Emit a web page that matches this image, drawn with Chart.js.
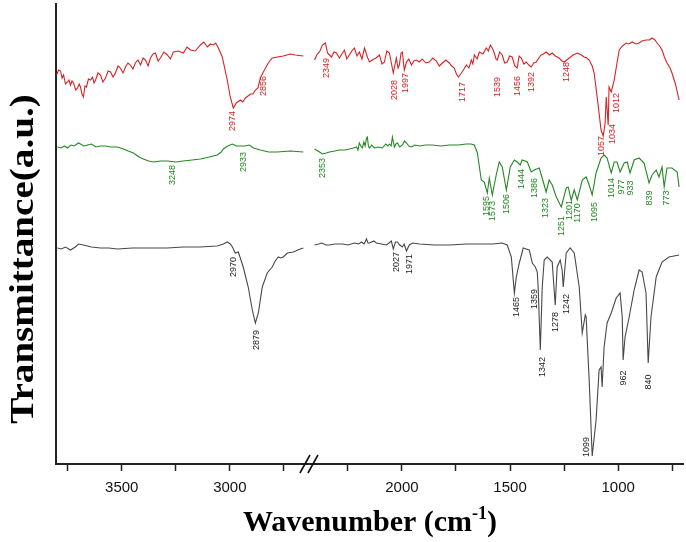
<!DOCTYPE html>
<html><head><meta charset="utf-8">
<script src="https://cdn.jsdelivr.net/npm/chart.js@4.4.1/dist/chart.umd.min.js"></script>
<style>html,body{margin:0;padding:0;background:#fff;}#wrap{width:686px;height:542px;}</style>
</head><body><div id="wrap"><canvas id="c" width="686" height="542"></canvas></div>
<script>
// ---- broken wavenumber axis: 3800-2650 | 2400-700 ----
const GAP = 204;            // wavenumber units collapsed by the axis break
const BREAK_C = 2430;       // position of the break mark (collapsed units)
function toC(w){ return w > 2500 ? w - GAP : w; }
function fromC(c){ return c > BREAK_C ? c + GAP : c; }

const tickWavenumbers = [3750,3500,3250,3000,2750,2250,2000,1750,1500,1250,1000,750];
const labeledTicks = [3500,3000,2000,1500,1000];

// ---- spectra [wavenumber, transmittance a.u.] ----
const redHigh = [[3801,389],[3792,394],[3783,393],[3776,386],[3769,389],[3760,380],[3751,382],[3744,384],[3737,379],[3730,383],[3723,381],[3713,374],[3704,376],[3697,380],[3691,377],[3684,370],[3677,367],[3670,378],[3663,377],[3654,385],[3644,384],[3635,387],[3628,381],[3621,384],[3610,391],[3598,389],[3587,382],[3575,386],[3563,393],[3552,392],[3540,387],[3529,391],[3517,398],[3506,396],[3494,391],[3483,397],[3471,401],[3460,399],[3448,395],[3437,401],[3425,404],[3413,399],[3401,406],[3390,404],[3378,398],[3367,406],[3355,410],[3344,411],[3332,403],[3321,406],[3305,412],[3289,409],[3275,405],[3261,412],[3238,413],[3215,411],[3198,417],[3182,414],[3160,413],[3136,419],[3120,422],[3104,417],[3090,420],[3076,419],[3065,421],[3053,416],[3035,407],[3012,384],[2998,367],[2984,356],[2970,361],[2951,364],[2940,362],[2928,366],[2916,368],[2905,370],[2893,370],[2882,374],[2870,376],[2859,386],[2845,392],[2822,401],[2804,406],[2780,407],[2753,408],[2720,410],[2697,409],[2660,408]];
const redLow = [[2404,404],[2392,410],[2381,412],[2368,419],[2354,421],[2344,411],[2335,409],[2326,407],[2314,412],[2303,411],[2289,406],[2278,410],[2266,414],[2255,405],[2243,409],[2232,413],[2220,416],[2208,408],[2197,412],[2185,405],[2173,416],[2160,407],[2150,402],[2137,404],[2120,406],[2104,409],[2092,400],[2081,402],[2070,413],[2058,411],[2048,400],[2040,391],[2026,406],[2018,396],[2012,399],[2004,411],[1998,412],[1989,394],[1979,402],[1968,405],[1956,399],[1945,403],[1933,404],[1920,402],[1906,405],[1890,401],[1873,402],[1857,406],[1841,403],[1827,398],[1813,401],[1797,404],[1781,401],[1770,398],[1758,396],[1748,390],[1739,387],[1725,391],[1713,395],[1702,399],[1690,396],[1679,404],[1672,400],[1665,409],[1652,405],[1642,412],[1625,410],[1610,416],[1600,413],[1591,419],[1580,415],[1573,411],[1565,405],[1559,404],[1548,412],[1536,409],[1525,401],[1513,402],[1502,408],[1490,407],[1478,398],[1467,396],[1458,408],[1448,406],[1436,400],[1425,402],[1413,399],[1402,397],[1390,401],[1379,402],[1367,406],[1356,409],[1345,410],[1333,412],[1318,409],[1305,411],[1290,408],[1273,406],[1260,403],[1249,402],[1238,404],[1226,406],[1208,409],[1189,411],[1170,409],[1157,407],[1145,406],[1134,404],[1120,398],[1111,391],[1097,367],[1079,334],[1069,328],[1060,341],[1055,367],[1046,339],[1042,377],[1032,372],[1018,384],[1006,400],[995,414],[980,418],[963,421],[950,420],[935,422],[918,420],[903,421],[890,423],[871,424],[855,424],[843,426],[830,424],[820,421],[808,418],[797,414],[786,407],[774,401],[760,396],[751,391],[735,380],[718,364]];

const greenHigh = [[3797,317],[3780,316],[3765,318],[3751,316],[3735,319],[3720,318],[3700,321],[3691,320],[3675,318],[3658,319],[3640,320],[3620,317],[3598,318],[3575,318],[3552,317],[3520,317],[3492,315],[3470,313],[3446,311],[3420,307],[3400,305],[3375,303],[3353,302],[3320,303],[3289,303],[3250,302],[3215,303],[3175,304],[3136,305],[3095,307],[3058,309],[3040,312],[3030,315],[3010,318],[2988,320],[2970,318],[2951,318],[2930,318],[2910,319],[2890,316],[2859,314],[2820,312],[2781,312],[2720,313],[2660,312]];
const greenLow = [[2404,315],[2381,312],[2368,310],[2350,311],[2335,312],[2310,313],[2289,314],[2265,314],[2243,315],[2225,316],[2210,317],[2203,314],[2197,321],[2190,318],[2183,316],[2176,322],[2170,318],[2164,326],[2160,327],[2155,318],[2150,316],[2140,319],[2127,316],[2110,317],[2090,316],[2075,320],[2065,318],[2058,320],[2050,318],[2044,327],[2035,317],[2028,320],[2021,321],[2010,317],[1998,319],[1988,323],[1979,321],[1968,318],[1956,317],[1940,319],[1919,318],[1890,319],[1859,319],[1820,318],[1781,319],[1740,319],[1702,320],[1680,320],[1665,319],[1651,311],[1633,284],[1619,282],[1605,271],[1596,286],[1582,269],[1564,289],[1550,302],[1536,297],[1517,274],[1499,297],[1480,304],[1467,302],[1453,299],[1444,304],[1430,303],[1420,302],[1402,292],[1388,294],[1365,296],[1350,285],[1333,272],[1319,284],[1305,279],[1286,267],[1263,257],[1240,276],[1231,277],[1217,264],[1203,274],[1189,264],[1166,284],[1148,287],[1134,279],[1120,269],[1102,291],[1079,306],[1065,309],[1051,306],[1032,291],[1018,302],[1005,302],[991,292],[972,301],[958,302],[945,291],[926,304],[903,306],[880,301],[857,281],[843,289],[824,294],[811,287],[797,297],[787,277],[774,296],[751,296],[727,292],[718,277]];

const grayHigh = [[3797,216],[3780,215],[3760,217],[3737,214],[3715,217],[3700,220],[3677,219],[3640,217],[3598,216],[3560,216],[3520,215],[3450,216],[3367,216],[3290,216],[3215,217],[3140,217],[3058,218],[3030,220],[3012,222],[2998,220],[2988,217],[2975,211],[2961,212],[2950,205],[2938,197],[2915,177],[2896,154],[2882,141],[2868,151],[2850,177],[2827,191],[2804,197],[2790,203],[2776,207],[2765,206],[2753,207],[2734,211],[2707,212],[2674,215],[2660,216]];
const grayLow = [[2404,219],[2385,220],[2372,221],[2350,219],[2335,219],[2310,220],[2275,220],[2250,219],[2220,221],[2200,220],[2187,222],[2175,220],[2164,225],[2157,221],[2150,221],[2130,223],[2118,221],[2095,220],[2072,219],[2060,221],[2049,223],[2040,215],[2030,222],[2021,222],[2010,219],[1998,217],[1990,220],[1979,213],[1966,219],[1950,221],[1919,220],[1850,219],[1781,219],[1700,220],[1628,220],[1580,220],[1536,221],[1513,219],[1494,207],[1480,171],[1471,187],[1457,201],[1439,216],[1425,215],[1411,214],[1397,201],[1383,197],[1374,192],[1370,177],[1360,114],[1351,177],[1342,204],[1328,207],[1305,202],[1291,159],[1282,197],[1268,204],[1259,194],[1254,177],[1240,211],[1222,216],[1203,211],[1180,177],[1166,131],[1152,149],[1148,147],[1134,84],[1120,8],[1102,44],[1088,94],[1079,97],[1074,77],[1065,117],[1051,141],[1032,151],[1009,166],[991,171],[981,147],[977,104],[968,127],[949,147],[926,174],[903,194],[889,192],[871,171],[861,101],[848,147],[824,187],[797,202],[765,207],[718,209]];

// ---- peak annotations [text, wavenumber position, transmittance position] ----
const redPeaks = [["2974",2988,343],["2856",2845,378],["2349",2349,396],["2028",2035,374],["1997",1984,381],["1717",1721,372],["1539",1559,377],["1456",1467,378],["1392",1402,382],["1248",1240,392],["1057",1079,318],["1034",1028,330],["1012",1009,361]];
const greenPeaks = [["3248",3266,289],["2933",2938,302],["2353",2368,296],["1595",1610,258],["1573",1582,253],["1506",1517,260],["1444",1448,285],["1386",1388,276],["1323",1337,256],["1251",1263,238],["1201",1226,254],["1170",1189,251],["1095",1111,252],["1014",1032,276],["977",986,277],["933",945,276],["839",857,266],["773",778,266]];
const grayPeaks = [["2970",2984,197],["2879",2878,124],["2027",2026,202],["1971",1966,200],["1465",1471,157],["1359",1388,165],["1342",1351,97],["1278",1291,142],["1242",1240,160],["1099",1148,17],["962",977,86],["840",861,82]];

const RED = 'rgb(214,34,36)', GREEN = 'rgb(36,136,36)', GRAY = 'rgb(72,72,72)';

function series(hi, lo){
  return hi.map(([w,v])=>({x:toC(w),y:v}))
    .concat([{x:BREAK_C,y:null}])
    .concat(lo.map(([w,v])=>({x:toC(w),y:v})));
}

const annot = {
  id:'annot',
  afterDatasetsDraw(chart){
    const ctx = chart.ctx, xs = chart.scales.x, ys = chart.scales.y;
    const groups = [[redPeaks,'rgb(210,30,30)'],[greenPeaks,'rgb(30,135,30)'],[grayPeaks,'#1a1a1a']];
    ctx.save();
    ctx.font = '9px "Liberation Sans", Arial, sans-serif';
    ctx.textAlign = 'center'; ctx.textBaseline = 'middle';
    for (const [list,col] of groups){
      ctx.fillStyle = col;
      for (const [t,w,v] of list){
        const px = xs.getPixelForValue(toC(w)), py = ys.getPixelForValue(v);
        ctx.save(); ctx.translate(px,py); ctx.rotate(-Math.PI/2); ctx.fillText(t,0,0); ctx.restore();
      }
    }
    ctx.restore();
  },
  afterDraw(chart){
    const ctx = chart.ctx, xs = chart.scales.x, area = chart.chartArea;
    // break marks
    const bx = xs.getPixelForValue(BREAK_C), by = area.bottom;
    ctx.save();
    ctx.strokeStyle = '#111'; ctx.lineWidth = 1.6;
    for (const dx of [-4,4]){
      ctx.beginPath(); ctx.moveTo(bx+dx-5, by+9); ctx.lineTo(bx+dx+5, by-9); ctx.stroke();
    }
    // axis titles
    ctx.fillStyle = '#000';
    const big = 'bold 30px "Liberation Serif", "Times New Roman", serif';
    const small = 'bold 18px "Liberation Serif", "Times New Roman", serif';
    ctx.textBaseline = 'alphabetic';
    ctx.font = big;
    const a = 'Wavenumber (cm', s = '-1', b = ')';
    const wa = ctx.measureText(a).width, wb = ctx.measureText(b).width;
    ctx.font = small;
    const ws = ctx.measureText(s).width;
    const x0 = 370 - (wa+ws+wb)/2, base = 531;
    ctx.textAlign = 'left';
    ctx.font = big;   ctx.fillText(a, x0, base);
    ctx.font = small; ctx.fillText(s, x0+wa, base-12);
    ctx.font = big;   ctx.fillText(b, x0+wa+ws, base);
    ctx.save();
    ctx.translate(24, 259); ctx.rotate(-Math.PI/2); ctx.scale(1.15, 1);
    ctx.font = 'bold 34px "Liberation Serif", "Times New Roman", serif';
    ctx.textAlign = 'center'; ctx.textBaseline = 'middle';
    ctx.fillText('Transmittance(a.u.)', 0, 0);
    ctx.restore();
    ctx.restore();
  }
};

new Chart(document.getElementById('c'), {
  type:'line',
  data:{datasets:[
    {data:series(redHigh,redLow), borderColor:RED},
    {data:series(greenHigh,greenLow), borderColor:GREEN},
    {data:series(grayHigh,grayLow), borderColor:GRAY}
  ]},
  options:{
    responsive:false, animation:false, devicePixelRatio:1,
    layout:{padding:{top:4,right:3,left:0,bottom:0}},
    elements:{point:{radius:0}, line:{borderWidth:1.1, tension:0}},
    plugins:{legend:{display:false}, tooltip:{enabled:false}},
    scales:{
      x:{type:'linear', reverse:true, min:700, max:3600,
        afterBuildTicks(scale){ scale.ticks = tickWavenumbers.map(w=>({value:toC(w)})); },
        afterFit(scale){ scale.height = 78; },
        ticks:{autoSkip:false, maxRotation:0, padding:8, color:'#111',
          font:{family:'"Liberation Sans", Arial, sans-serif', size:15},
          callback(v){ const w = Math.round(fromC(v)); return labeledTicks.includes(w) ? String(w) : ''; }},
        grid:{drawOnChartArea:false, drawTicks:true, tickLength:7, tickColor:'#222', tickWidth:1.5},
        border:{color:'#222', width:2}
      },
      y:{min:0, max:460,
        afterFit(scale){ scale.width = 56; },
        ticks:{display:false},
        grid:{display:false, drawTicks:false},
        border:{color:'#222', width:2}
      }
    }
  },
  plugins:[annot]
});
</script></body></html>
